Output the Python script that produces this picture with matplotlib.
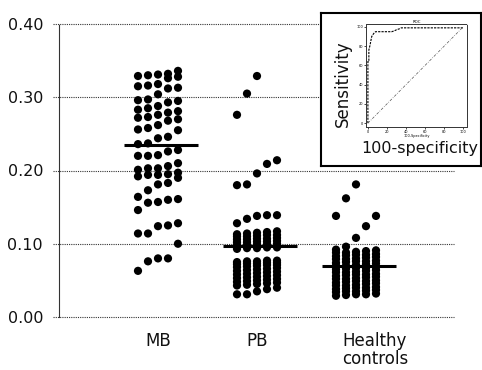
import matplotlib
matplotlib.use("Agg")
import matplotlib.pyplot as plt
import matplotlib.transforms as mtransforms
import numpy as np

# ---------------- data ----------------
categories = ["MB", "PB", "Healthy\ncontrols"]

mb_values = [
    0.063, 0.076, 0.080, 0.080, 0.100,
    0.114, 0.114, 0.124, 0.125, 0.128,
    0.146, 0.156, 0.157, 0.160, 0.161,
    0.164, 0.173, 0.181, 0.183, 0.190,
    0.192, 0.194, 0.194, 0.195, 0.197,
    0.201, 0.203, 0.203, 0.206, 0.210,
    0.220, 0.220, 0.221, 0.226, 0.228,
    0.236, 0.237, 0.244, 0.246, 0.255,
    0.256, 0.258, 0.262, 0.268, 0.270,
    0.272, 0.273, 0.276, 0.279, 0.281,
    0.283, 0.285, 0.288, 0.293, 0.295,
    0.296, 0.297, 0.304, 0.312, 0.313,
    0.315, 0.316, 0.318, 0.326, 0.328,
    0.329, 0.330, 0.331, 0.332, 0.336,
]

pb_values = [
    0.031, 0.031, 0.035, 0.038, 0.040,
    0.043, 0.044, 0.045, 0.046, 0.047,
    0.048, 0.049, 0.050, 0.051, 0.052,
    0.053, 0.054, 0.055, 0.056, 0.057,
    0.058, 0.059, 0.060, 0.061, 0.062,
    0.063, 0.064, 0.065, 0.066, 0.067,
    0.068, 0.069, 0.070, 0.071, 0.071,
    0.072, 0.073, 0.073, 0.074, 0.074,
    0.075, 0.076, 0.076, 0.077, 0.077,
    0.093, 0.094, 0.094, 0.095, 0.095,
    0.098, 0.098, 0.099, 0.099, 0.100,
    0.102, 0.102, 0.103, 0.103, 0.104,
    0.106, 0.106, 0.107, 0.107, 0.108,
    0.110, 0.110, 0.111, 0.112, 0.112,
    0.113, 0.114, 0.115, 0.116, 0.117,
    0.128, 0.134, 0.138, 0.139, 0.139,
    0.180, 0.181, 0.196, 0.209, 0.214,
    0.276, 0.305, 0.329,
]

hc_values = [
    0.029, 0.030, 0.031, 0.031, 0.032,
    0.034, 0.035, 0.035, 0.036, 0.037,
    0.038, 0.039, 0.040, 0.040, 0.041,
    0.043, 0.043, 0.044, 0.045, 0.046,
    0.047, 0.048, 0.049, 0.049, 0.050,
    0.052, 0.052, 0.053, 0.054, 0.055,
    0.056, 0.057, 0.058, 0.058, 0.059,
    0.061, 0.061, 0.062, 0.063, 0.064,
    0.065, 0.066, 0.067, 0.067, 0.068,
    0.070, 0.070, 0.071, 0.072, 0.073,
    0.074, 0.075, 0.076, 0.076, 0.077,
    0.079, 0.079, 0.080, 0.081, 0.082,
    0.083, 0.084, 0.085, 0.085, 0.086,
    0.088, 0.088, 0.089, 0.090, 0.091,
    0.092, 0.096,
    0.108, 0.124, 0.138, 0.138, 0.162, 0.181,
]

group_centers = [0.235, 0.097, 0.069]   # horizontal bars

yticks = [0.00, 0.10, 0.20, 0.30, 0.40]
ytick_labels = ["0.00", "0.10", "0.20", "0.30", "0.40"]

# inset ROC curve
roc_fpr = [0, 0, 1, 1, 2, 3, 4, 6, 8, 25, 28, 30, 33, 35, 60, 100]
roc_tpr = [0, 64, 64, 76, 80, 85, 90, 93, 95, 95, 96, 97, 98, 99, 99, 99]
roc_ticks = [0, 20, 40, 60, 80, 100]

# ---------------- figure ----------------
plt.rcParams["font.family"] = ["DejaVu Sans"]
W, H = 482, 370
fig = plt.figure(figsize=(W / 100, H / 100), dpi=100)
fig.patch.set_facecolor("white")

ax = fig.add_axes([59 / W, 1 - 317 / H, (454 - 59) / W, (317 - 24) / H])
ax.set_xlim(0, 3.99)
ax.set_ylim(0, 0.40)

dotted = (0, (1, 1.0))
grid_color = "#333333"

# horizontal dotted grid lines (extend slightly left as ticks)
for yv in yticks:
    ax.axhline(yv, xmin=-0.015, xmax=1.0, color=grid_color, lw=0.8,
               linestyle=dotted, clip_on=False, zorder=1)

for side in ["top", "right", "bottom"]:
    ax.spines[side].set_visible(False)
ax.spines["left"].set_linestyle(dotted)
ax.spines["left"].set_color(grid_color)
ax.spines["left"].set_linewidth(0.8)

ax.set_yticks(yticks)
ax.set_yticklabels(ytick_labels)
ax.tick_params(axis="y", length=0, pad=11.5, labelsize=11.5, labelcolor="#111111")

ax.set_xticks([1, 2, 3])
ax.set_xticklabels(categories, linespacing=1.05)
ax.tick_params(axis="x", length=0, pad=10.5, labelsize=12, labelcolor="#111111")
lab = ax.get_xticklabels()[2]
lab.set_transform(lab.get_transform() +
                  mtransforms.ScaledTranslation(19 / 100, 0, fig.dpi_scale_trans))

# dots arranged in 5 columns (sorted values distributed round-robin)
n_cols = 5
col_step = 0.101
for pos, vals in zip([1, 2, 3], [mb_values, pb_values, hc_values]):
    v = np.sort(np.asarray(vals))
    idx = np.arange(len(v)) % n_cols
    xs = pos + (idx - (n_cols - 1) / 2) * col_step
    ax.scatter(xs, v, s=35, color="black", edgecolors="none", zorder=3)

for pos, c in zip([1, 2, 3], group_centers):
    ax.hlines(c, pos - 0.34, pos + 0.40, color="black", lw=2.2, zorder=4)

# ---------------- inset ----------------
box = fig.add_axes([321 / W, 1 - 166 / H, 160 / W, (166 - 13) / H])
box.set_xticks([])
box.set_yticks([])
box.set_facecolor("white")
for s in box.spines.values():
    s.set_linewidth(1.5)
    s.set_color("black")
box.set_zorder(5)

fig.text(343 / W, 1 - 84 / H, "Sensitivity", rotation=90, ha="center",
         va="center", fontsize=12, color="#111111", zorder=7)
fig.text(420 / W, 1 - 148 / H, "100-specificity", ha="center", va="center",
         fontsize=11.5, color="#111111", zorder=7)

roc = fig.add_axes([366 / W, 1 - 127 / H, 101 / W, 103 / H])
roc.set_zorder(6)
roc.set_facecolor("white")
roc.set_xlim(-2, 104)
roc.set_ylim(-4, 103)
for s in roc.spines.values():
    s.set_linestyle(dotted)
    s.set_linewidth(0.7)
    s.set_color("#333333")
roc.plot(roc_fpr, roc_tpr, color="black", lw=0.8, linestyle=(0, (2, 1)))
roc.plot([0, 100], [0, 100], color="#555555", lw=0.5, linestyle=(0, (4, 2, 1, 2)))
roc.set_xticks(roc_ticks)
roc.set_yticks(roc_ticks)
roc.set_xticklabels([str(t) for t in roc_ticks])
roc.set_yticklabels([str(t) for t in roc_ticks])
roc.tick_params(length=1.2, width=0.5, pad=0.8, labelsize=2.5)
roc.set_title("ROC", fontsize=2.8, pad=1)
roc.set_xlabel("100-Specificity", fontsize=2.5, labelpad=0.5)

fig.savefig("out.png", dpi=100, facecolor="white")
